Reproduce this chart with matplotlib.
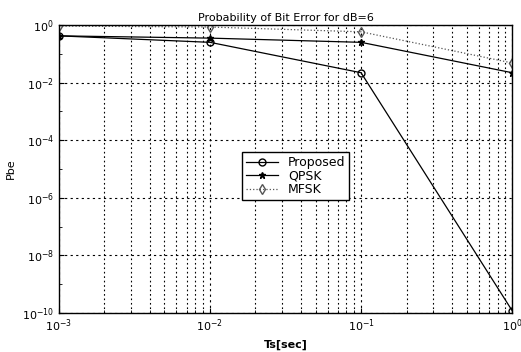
import numpy as np
import matplotlib.pyplot as plt
from matplotlib.ticker import LogLocator, FixedLocator

# symbol time (s) and bit error probability at dB=6
ts = [1e-3, 1e-2, 1e-1, 1e0]
proposed = [0.42, 0.25, 0.022, 1.2e-10]
qpsk = [0.42, 0.35, 0.25, 0.022]
mfsk = [0.92, 0.85, 0.58, 0.048]

fig = plt.figure(figsize=(5.21, 3.52), dpi=100)
ax = fig.add_axes([0.113, 0.111, 0.870, 0.818])

ax.loglog(ts, proposed, 'k-', marker='o', mfc='none', ms=5, lw=0.9, label='Proposed')
ax.loglog(ts, qpsk, 'k-', marker='*', ms=5, lw=0.9, label='QPSK')
ax.loglog(ts, mfsk, color='#555555', ls=':', marker='d', mfc='none', ms=5, lw=0.9, label='MFSK')

ax.set_xlim(1e-3, 1)
ax.set_ylim(1e-10, 1)
ax.yaxis.set_major_locator(FixedLocator([1e-10, 1e-8, 1e-6, 1e-4, 1e-2, 1]))
ax.yaxis.set_minor_locator(FixedLocator([1e-9, 1e-7, 1e-5, 1e-3, 1e-1]))
ax.yaxis.set_minor_formatter(plt.NullFormatter())
ax.xaxis.set_minor_locator(LogLocator(base=10, subs=np.arange(2, 10)))

ax.grid(True, which='major', axis='both', color='k', ls=(0, (2, 3)), lw=0.8)
ax.grid(True, which='minor', axis='x', color='k', ls=(0, (1.5, 2.5)), lw=0.8)
ax.tick_params(which='both', direction='in', labelsize=8)
for s in ax.spines.values():
    s.set_linewidth(1.0)

ax.set_title('Probability of Bit Error for dB=6', fontsize=8, pad=3)
ax.set_xlabel('Ts[sec]', fontsize=8, fontweight='bold')
ax.set_ylabel('Pbe', fontsize=8)

ax.legend(loc='upper left', bbox_to_anchor=(0.39, 0.58), fontsize=9,
          fancybox=False, edgecolor='k', framealpha=1, handlelength=2.6,
          borderpad=0.3, labelspacing=0.05)

fig.savefig('out.png', dpi=100)
